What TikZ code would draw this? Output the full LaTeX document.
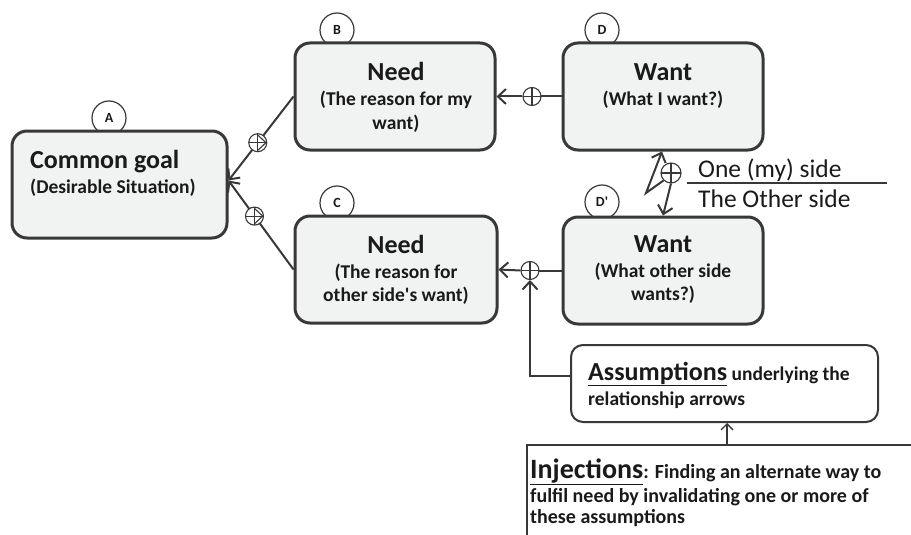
\documentclass[tikz,border=0pt]{standalone}
\usepackage{fontspec}
\setmainfont{Carlito}
\usetikzlibrary{arrows.meta}
\definecolor{lc}{HTML}{383838}
\definecolor{bf}{HTML}{F1F2F2}
\definecolor{tc}{HTML}{1A1A1A}
\tikzset{
  bigbox/.style={draw=lc, fill=bf, line width=3pt, rounded corners=15pt, minimum width=#1, minimum height=107pt, inner sep=0},
  tag/.style={circle, draw=lc, fill=white, line width=1.2pt, minimum size=34pt, inner sep=0, font=\bfseries\fontsize{14}{14}\selectfont, text=tc},
  ttl/.style={anchor=base, inner sep=0, text=tc, font=\bfseries\fontsize{26}{26}\selectfont},
  sub/.style={anchor=base, inner sep=0, text=tc, font=\bfseries\fontsize{19.5}{19.5}\selectfont},
  oplus/.style={circle, draw=lc, fill=white, line width=1.1pt, minimum size=#1, inner sep=0,
    path picture={\draw[lc, line width=1.1pt] (path picture bounding box.north) -- (path picture bounding box.south)
      (path picture bounding box.west) -- (path picture bounding box.east);}},
  oplus/.default=18pt,
  conn/.style={draw=lc, line width=2pt, -{Straight Barb[length=8pt,width=15pt]}},
  thinconn/.style={draw=lc, line width=1.4pt, -{Straight Barb[length=6pt,width=12pt]}},
  plain/.style={draw=lc, line width=2pt},
  side/.style={anchor=base west, inner sep=0, text=tc, font=\fontsize{25.5}{25.5}\selectfont},
}
\begin{document}
\begin{tikzpicture}[x=1pt,y=-1pt]
\useasboundingbox (0,0) rectangle (911,535);
% tags (behind boxes)
\node[tag] (tA) at (109,118) {A};
\node[tag] (tB) at (337,30) {B};
\node[tag] (tD) at (602,30) {D};
\node[tag] (tC) at (337,203) {C};
\node[tag] (tDp) at (602,202) {D\textquotesingle};
% boxes
\node[bigbox=215pt] (A) at (119.5,184.5) {};
\node[bigbox=200pt] (B) at (395,96.5) {};
\node[bigbox=200pt] (D) at (663,96.5) {};
\node[bigbox=202pt] (C) at (396,269.5) {};
\node[bigbox=200pt] (Dp) at (663,270.5) {};
% texts
\node[ttl,anchor=base west] (A1) at (30,168) {Common goal};
\node[sub,anchor=base west] (A2) at (30,193) {(Desirable Situation)};
\node[ttl] (B1) at (396,81) {Need};
\node[sub] (B2) at (396,106) {(The reason for my};
\node[sub] (B3) at (396,129) {want)};
\node[ttl] (D1) at (663,81) {Want};
\node[sub] (D2) at (663,106) {(What I want?)};
\node[ttl] (C1) at (396,253) {Need};
\node[sub] (C2) at (396,278) {(The reason for};
\node[sub] (C3) at (396,301) {other side\textquotesingle s want)};
\node[ttl] (Dp1) at (663,252) {Want};
\node[sub] (Dp2) at (663,277) {(What other side};
\node[sub] (Dp3) at (663,300) {wants?)};
% side labels
\node[side] (one) at (698,177) {One (my) side};
\node[side] (oth) at (698,207) {The Other side};
\draw[lc, line width=1.6pt] (687,183) -- (887,183);
% assumptions box
\node[draw=lc, fill=white, line width=2pt, rounded corners=12pt, minimum width=307pt, minimum height=77pt, inner sep=0] (as) at (724.5,383.5) {};
\node[anchor=base west, inner sep=0, text=tc, font=\bfseries\fontsize{19.5}{19.5}\selectfont] (as1) at (588,380) {{\fontsize{26}{26}\selectfont\underline{Assumptions}} underlying the};
\node[anchor=base west, inner sep=0, text=tc, font=\bfseries\fontsize{19.5}{19.5}\selectfont] (as2) at (588,405) {relationship arrows};
% injections box
\node[draw=lc, fill=white, line width=2.5pt, minimum width=398pt, minimum height=115pt, inner sep=0] (inj) at (726,502.5) {};
\node[anchor=base west, inner sep=0, text=tc, font=\bfseries\fontsize{20}{20}\selectfont] (in1) at (530,478) {{\fontsize{28}{28}\selectfont\underline{Injections}}: Finding an alternate way to};
\node[anchor=base west, inner sep=0, text=tc, font=\bfseries\fontsize{20}{20}\selectfont] (in2) at (530,502) {fulfil need by invalidating one or more of};
\node[anchor=base west, inner sep=0, text=tc, font=\bfseries\fontsize{20}{20}\selectfont] (in3) at (530,523) {these assumptions};
% connectors
\draw[conn] (B.west) -- node[oplus, pos=0.55] (o1) {} ([yshift=4pt]A.east);
\draw[conn] (C.west) -- node[oplus, pos=0.6] (o2) {} ([yshift=4pt]A.east);
\draw[plain] (D.west) -- (532,96.5);
\node[oplus] (o3) at (532,96.5) {};
\draw[conn] (o3.west) -- (B.east);
\draw[plain] (Dp.west) -- (530,270.5);
\node[oplus] (o4) at (530,270.5) {};
\draw[conn] (o4.west) -- (C.east);
\draw[conn] ([yshift=8pt]as.west) -| (o4.south);
\draw[thinconn] (inj.north -| 727,0) -- (as.south -| 727,0);
% D / D' link
\node[oplus=20pt] (o5) at (671,173) {};
\coordinate (zz) at (646,193);
\draw[conn] (o5.south west) -- (zz) -- ([xshift=-1pt]D.south);
\draw[conn] (o5.south) -- (Dp.north);
\end{tikzpicture}
\end{document}
